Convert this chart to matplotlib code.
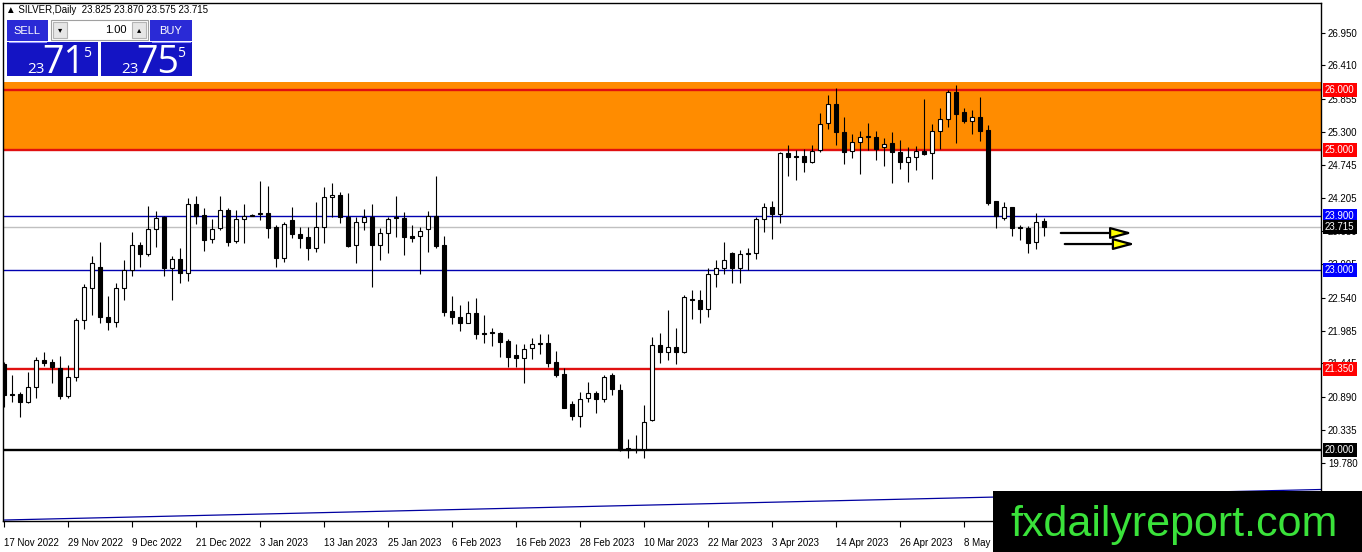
import matplotlib
matplotlib.use('Agg')
import matplotlib.pyplot as plt
from matplotlib.patches import Rectangle
import numpy as np

plt.rcParams['font.family'] = ['Liberation Sans', 'DejaVu Sans']

# daily candles, 17 Nov 2022 onwards
opens = [
    21.433, 20.933, 20.933, 20.800, 21.050, 21.500, 21.467, 21.367, 20.900, 21.217,
    22.167, 22.700, 23.050, 22.217, 22.133, 22.700, 23.000, 23.417, 23.267, 23.683,
    23.883, 23.033, 23.183, 22.950, 24.100, 23.917, 23.517, 23.700, 24.000, 23.483,
    23.850, 23.900, 23.933, 23.950, 23.717, 23.200, 23.833, 23.600, 23.550, 23.367,
    23.717, 24.217, 24.250, 23.883, 23.417, 23.800, 23.883, 23.417, 23.617, 23.883,
    23.867, 23.567, 23.567, 23.683, 23.900, 23.417, 22.317, 22.217, 22.117, 22.283,
    21.950, 21.967, 21.950, 21.817, 21.583, 21.533, 21.700, 21.767, 21.783, 21.467,
    21.267, 20.767, 20.567, 20.867, 20.950, 20.850, 21.250, 21.000, 20.033, 20.000,
    20.017, 20.500, 21.750, 21.633, 21.717, 21.633, 22.517, 22.500, 22.350, 22.933,
    23.033, 23.283, 23.033, 23.267, 23.283, 23.850, 24.050, 23.933, 24.950, 24.900,
    24.900, 24.800, 25.000, 25.450, 25.767, 25.300, 24.983, 25.133, 25.217, 25.217,
    25.050, 25.117, 24.967, 24.800, 24.883, 24.983, 24.950, 25.317, 25.517, 25.967,
    25.633, 25.483, 25.550, 25.333, 24.150, 23.867, 24.050, 23.717, 23.700, 23.467,
    23.825]
highs = [
    21.467, 21.250, 20.967, 21.300, 21.550, 21.633, 21.517, 21.567, 21.417, 22.200,
    22.767, 23.233, 23.467, 22.567, 22.783, 23.167, 23.633, 23.467, 24.067, 23.983,
    23.900, 23.233, 23.367, 24.200, 24.233, 24.033, 23.850, 24.233, 24.033, 24.000,
    24.100, 23.933, 24.483, 24.400, 23.750, 23.800, 24.050, 23.717, 23.717, 24.133,
    24.383, 24.450, 24.300, 24.283, 23.883, 24.017, 24.100, 23.700, 23.883, 24.233,
    23.967, 23.750, 23.717, 23.983, 24.567, 23.567, 22.567, 22.417, 22.483, 22.533,
    22.250, 22.033, 21.967, 21.850, 21.767, 21.767, 21.867, 21.933, 21.933, 21.650,
    21.367, 20.817, 20.967, 21.133, 20.983, 21.250, 21.283, 21.100, 20.183, 20.250,
    20.750, 21.883, 21.950, 22.333, 22.033, 22.583, 22.667, 22.667, 23.033, 23.167,
    23.467, 23.300, 23.333, 23.367, 23.883, 24.117, 24.150, 24.967, 25.083, 25.000,
    25.017, 25.083, 25.617, 25.917, 26.033, 25.550, 25.267, 25.317, 25.450, 25.317,
    25.200, 25.300, 25.167, 25.050, 25.067, 25.850, 25.433, 25.700, 26.000, 26.083,
    25.700, 25.667, 25.883, 25.417, 24.150, 24.133, 24.050, 23.750, 23.733, 23.950,
    23.870]
lows = [
    20.717, 20.800, 20.550, 20.783, 20.867, 21.400, 21.117, 20.850, 20.867, 21.150,
    22.017, 22.250, 22.117, 22.000, 22.050, 22.500, 22.900, 23.050, 23.233, 23.383,
    22.900, 22.500, 22.783, 22.817, 23.767, 23.317, 23.450, 23.667, 23.400, 23.450,
    23.450, 23.900, 23.833, 23.533, 23.050, 23.133, 23.533, 23.367, 23.167, 23.300,
    23.450, 23.883, 23.783, 23.383, 23.117, 23.667, 22.717, 23.167, 23.283, 23.550,
    23.250, 23.467, 22.933, 23.300, 23.367, 22.233, 22.100, 21.983, 22.117, 21.850,
    21.783, 21.733, 21.550, 21.383, 21.383, 21.117, 21.517, 21.600, 21.383, 21.217,
    20.700, 20.500, 20.383, 20.800, 20.617, 20.800, 20.917, 19.983, 19.867, 19.950,
    19.867, 20.483, 21.450, 21.500, 21.433, 21.617, 22.183, 22.117, 22.217, 22.717,
    22.933, 22.783, 22.783, 23.000, 23.183, 23.633, 23.517, 23.783, 24.567, 24.500,
    24.633, 24.783, 24.967, 25.350, 25.083, 24.767, 24.867, 24.600, 25.000, 24.833,
    24.733, 24.450, 24.683, 24.467, 24.667, 24.917, 24.517, 25.017, 25.383, 25.117,
    25.450, 25.267, 25.150, 24.083, 23.700, 23.833, 23.567, 23.500, 23.283, 23.350,
    23.575]
closes = [
    20.917, 20.917, 20.800, 21.050, 21.500, 21.450, 21.383, 20.900, 21.217, 22.167,
    22.717, 23.117, 22.217, 22.133, 22.700, 23.000, 23.417, 23.267, 23.683, 23.867,
    23.033, 23.183, 22.950, 24.100, 23.900, 23.500, 23.683, 24.000, 23.467, 23.850,
    23.900, 23.917, 23.950, 23.700, 23.200, 23.767, 23.600, 23.533, 23.367, 23.717,
    24.217, 24.250, 23.883, 23.400, 23.800, 23.883, 23.417, 23.617, 23.850, 23.867,
    23.550, 23.533, 23.650, 23.900, 23.400, 22.300, 22.217, 22.117, 22.283, 21.933,
    21.933, 21.950, 21.800, 21.550, 21.533, 21.683, 21.767, 21.783, 21.450, 21.250,
    20.700, 20.567, 20.850, 20.950, 20.850, 21.217, 21.017, 20.000, 20.000, 20.017,
    20.467, 21.750, 21.633, 21.717, 21.633, 22.550, 22.500, 22.350, 22.933, 23.033,
    23.167, 23.033, 23.267, 23.283, 23.850, 24.050, 23.933, 24.950, 24.883, 24.883,
    24.800, 24.983, 25.433, 25.767, 25.300, 24.967, 25.133, 25.217, 25.233, 25.017,
    25.100, 24.967, 24.800, 24.883, 24.983, 24.933, 25.317, 25.517, 25.967, 25.600,
    25.483, 25.550, 25.317, 24.117, 23.900, 24.050, 23.700, 23.700, 23.450, 23.800,
    23.715]

date_labels = ['17 Nov 2022', '29 Nov 2022', '9 Dec 2022', '21 Dec 2022', '3 Jan 2023',
               '13 Jan 2023', '25 Jan 2023', '6 Feb 2023', '16 Feb 2023', '28 Feb 2023',
               '10 Mar 2023', '22 Mar 2023', '3 Apr 2023', '14 Apr 2023', '26 Apr 2023',
               '8 May 2023']
date_step = 8  # one label every 8 bars

price_ticks = [26.950, 26.410, 25.855, 25.300, 24.745, 24.205, 23.650, 23.095,
               22.540, 21.985, 21.445, 20.890, 20.335, 19.780]

# horizontal levels: value, line colour, label colour
levels = [(26.000, '#e01010', '#ff0000'), (25.000, '#e01010', '#ff0000'),
          (23.900, '#0000b0', '#0000ff'), (23.000, '#0000b0', '#0000ff'),
          (21.350, '#e01010', '#ff0000'), (20.000, '#000000', '#000000')]
zone_low, zone_high = 25.000, 26.133
bid = 23.715
trend_x = [-0.125, 164.6]
trend_y = [18.833, 19.342]
arrow_rows = [(131.75, 141.4, 23.617), (132.25, 141.75, 23.433)]

o = np.array(opens); h = np.array(highs); l = np.array(lows); c = np.array(closes)
x = np.arange(len(o))

fig = plt.figure(figsize=(13.62, 5.52), dpi=100)
ax = fig.add_axes([3 / 1362, 1 - 521 / 552, 1318 / 1362, 518 / 552])
ax.set_xlim(-0.125, 164.625)
ax.set_ylim(18.817, 27.45)

ax.axhspan(zone_low, zone_high, color='#ff8c00', zorder=0, lw=0)
for val, lc, bc in levels:
    lw = 1.0 if lc == '#0000b0' else 1.7
    ax.axhline(val, color=lc, lw=lw, zorder=1)
ax.axhline(bid, color='#c0c0c0', lw=1.0, zorder=1)
ax.plot(trend_x, trend_y, color='#0000a0', lw=0.9, zorder=1)

# candles
ax.vlines(x, l, h, color='black', lw=0.8, zorder=3)
body_lo = np.minimum(o, c)
body_h = np.maximum(np.abs(c - o), 0.004)
fills = ['white' if cc >= oo else 'black' for oo, cc in zip(o, c)]
ax.bar(x, body_h, bottom=body_lo, width=0.6, color=fills, edgecolor='black',
       linewidth=0.8, zorder=4)

# arrows
for x0, x1, yy in arrow_rows:
    ax.annotate('', xy=(x1, yy), xytext=(x0, yy),
                arrowprops=dict(arrowstyle='-|>,head_length=1.3,head_width=0.35',
                                fc='#ffff00', ec='black', lw=1.6), zorder=5)

# axes styling
ax.yaxis.tick_right()
ax.set_yticks(price_ticks)
ax.set_yticklabels(['%.3f' % t for t in price_ticks])
ax.tick_params(axis='y', direction='out', length=3, pad=2, labelsize=7, colors='black')
ax.set_xticks(np.arange(len(date_labels)) * date_step)
ax.set_xticklabels(date_labels)
ax.tick_params(axis='x', direction='out', length=4, pad=8, labelsize=7)
for lbl in ax.get_xticklabels():
    lbl.set_ha('left')
for sp in ax.spines.values():
    sp.set_color('black')
    sp.set_linewidth(1)

# level price tags on the axis
tag_tr = ax.get_yaxis_transform()
for val, lc, bc in levels + [(bid, '#000000', '#000000')]:
    ax.text(1.0 + 4 / 1318, val, '%.3f' % val, transform=tag_tr, fontsize=7,
            color='white', va='center', ha='left', zorder=6, clip_on=False,
            bbox=dict(boxstyle='square,pad=0.22', fc=bc, ec='none'))

# overlay in pixel units for the trade panel and the watermark
ov = fig.add_axes([0, 0, 1, 1], zorder=10)
ov.set_xlim(0, 1362)
ov.set_ylim(552, 0)
ov.axis('off')
ov.patch.set_alpha(0)

ov.text(6, 10, '\u25b2 SILVER,Daily  23.825 23.870 23.575 23.715', fontsize=7,
        va='center', ha='left', color='black')

btn = '#2a2ad6'
box = '#1414c4'
ov.add_patch(Rectangle((7, 20), 41, 21, fc=btn, ec='none'))
ov.add_patch(Rectangle((150, 20), 42, 21, fc=btn, ec='none'))
ov.add_patch(Rectangle((7, 42), 91, 34, fc=box, ec='none'))
ov.add_patch(Rectangle((101, 42), 91, 34, fc=box, ec='none'))
ov.plot([9, 46], [41.5, 41.5], color='#9090ff', lw=0.8)
ov.plot([152, 190], [41.5, 41.5], color='#9090ff', lw=0.8)
ov.add_patch(Rectangle((51, 20), 97, 20, fc='white', ec='#a0a0a0', lw=0.8))
ov.add_patch(Rectangle((53, 22), 14, 16, fc='#e6e6e6', ec='#b4b4b4', lw=0.8))
ov.add_patch(Rectangle((132, 22), 14, 16, fc='#e6e6e6', ec='#b4b4b4', lw=0.8))
ov.text(60, 30, '\u25be', fontsize=6, ha='center', va='center', family='DejaVu Sans')
ov.text(139, 30, '\u25b4', fontsize=6, ha='center', va='center', family='DejaVu Sans')
ov.text(127, 30, '1.00', fontsize=8, ha='right', va='center', color='black')
ov.text(27, 31, 'SELL', fontsize=8, ha='center', va='center', color='white')
ov.text(171, 31, 'BUY', fontsize=8, ha='center', va='center', color='white')

for cx, big in ((7, '71'), (101, '75')):
    ov.text(cx + 29, 73, '23', fontsize=11, ha='center', va='baseline', color='white',
            family='Open Sans')
    ov.text(cx + 57, 73, big, fontsize=27, ha='center', va='baseline', color='white',
            family='Open Sans')
    ov.text(cx + 80, 57, '5', fontsize=10, ha='center', va='baseline', color='white',
            family='Open Sans')

ov.add_patch(Rectangle((993, 491), 369, 61, fc='black', ec='none'))
ov.text(1010, 536, 'fxdailyreport.com', fontsize=31, color='#3ae23a',
        ha='left', va='baseline')

fig.savefig('out.png', dpi=100)
